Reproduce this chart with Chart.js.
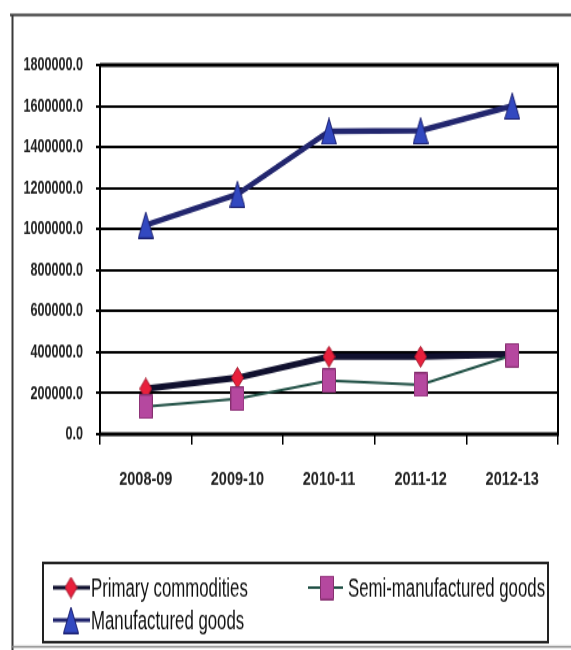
<!DOCTYPE html>
<html>
<head>
<meta charset="utf-8">
<script src="https://cdn.jsdelivr.net/npm/chart.js@4"></script>
<style>
  html, body { margin:0; padding:0; background:#fff; overflow:hidden; }
  #wrap { width:571px; height:650px; position:relative; }
  /* the source picture is a vertically stretched export, so draw at 500px and stretch */
  #c { transform:scaleY(1.3); transform-origin:0 0; }
</style>
</head>
<body>
<div id="wrap"><canvas id="c" width="571" height="500"></canvas></div>
<script>
/* =====  data  ===== */
const categories   = ['2008-09', '2009-10', '2010-11', '2011-12', '2012-13'];
const primary      = [222000, 275000, 378000, 378000, 388000];
const semiMfg      = [134000, 173000, 261000, 241000, 385000];
const manufactured = [1020000, 1170000, 1477000, 1480000, 1600000];
const yMax  = 1800000;
const yStep = 200000;

const SANS = '"Liberation Sans", Arial, sans-serif';
const NARROW_X = 0.84;      // horizontal squeeze that turns Arial into "Arial Narrow"

/* =====  marker images (tall, like the source)  ===== */
function marker(kind, w, h, fill, stroke) {
  const c = document.createElement('canvas');
  c.width = w; c.height = h;
  const g = c.getContext('2d');
  g.beginPath();
  if (kind === 'tri')      { g.moveTo(w/2, 0.5); g.lineTo(w-0.5, h-0.5); g.lineTo(0.5, h-0.5); }
  else if (kind === 'dia') { g.moveTo(w/2, 0.5); g.lineTo(w-0.5, h/2); g.lineTo(w/2, h-0.5); g.lineTo(0.5, h/2); }
  else                     { g.rect(0.5, 0.5, w-1, h-1); }
  g.closePath();
  g.fillStyle = fill; g.fill();
  g.lineWidth = 1; g.strokeStyle = stroke; g.stroke();
  return c;
}
const diaImg = marker('dia', 13, 17, '#e8203c', '#a0142a');
const sqImg  = marker('sq', 14, 19, '#b5489f', '#86306f');
const triImg = marker('tri', 16, 21, '#3248c0', '#1c2070');

/* =====  frame, plot border and hand-placed legend  ===== */
const legendItems = [
  { ds:0, x0:53,  x1:90,  mx:71,  tx:91,  y:452 },
  { ds:1, x0:308, x1:343, mx:327, tx:348, y:452 },
  { ds:2, x0:53,  x1:90,  mx:71,  tx:91,  y:477 }
];

const decor = {
  id: 'decor',
  afterLayout(chart) {
    // squeeze the y tick labels sideways (narrow font look)
    const s = chart.scales.y;
    if (s._squeezed) return;
    s._squeezed = true;
    const orig = s.drawLabels;
    s.drawLabels = function(area) {
      const ctx = this.ctx, px = this.right - 4 - 13;
      ctx.save();
      ctx.translate(px, 0); ctx.scale(NARROW_X, 1); ctx.translate(-px, 0);
      orig.call(this, area);
      ctx.restore();
    };
  },
  beforeDraw(chart) {
    const ctx = chart.ctx;
    ctx.save();
    ctx.fillStyle = '#fff';
    ctx.fillRect(0, 0, chart.width, chart.height);
    ctx.strokeStyle = '#3a3a3a'; ctx.lineWidth = 2;
    ctx.beginPath();
    ctx.moveTo(10, 11.5); ctx.lineTo(571, 11.5);
    ctx.moveTo(12.5, 11); ctx.lineTo(12.5, 500);
    ctx.stroke();
    ctx.strokeStyle = '#888'; ctx.lineWidth = 1.5;
    ctx.beginPath(); ctx.moveTo(12, 497.5); ctx.lineTo(571, 497.5); ctx.stroke();
    ctx.restore();
  },
  beforeDatasetsDraw(chart) {
    const {left, top, right, bottom} = chart.chartArea;
    const ctx = chart.ctx;
    ctx.save();
    ctx.strokeStyle = '#000';
    ctx.lineWidth = 3;
    ctx.beginPath(); ctx.moveTo(left, top); ctx.lineTo(right + 1, top); ctx.stroke();
    ctx.beginPath(); ctx.moveTo(left, bottom); ctx.lineTo(right + 1, bottom); ctx.stroke();
    ctx.lineWidth = 2;
    ctx.beginPath(); ctx.moveTo(right, top); ctx.lineTo(right, bottom); ctx.stroke();
    ctx.restore();
  },
  afterDraw(chart) {
    const ctx = chart.ctx;
    ctx.save();
    ctx.strokeStyle = '#222'; ctx.lineWidth = 2;
    ctx.strokeRect(43, 433, 505, 61);
    ctx.font = '20px ' + SANS;
    ctx.fillStyle = '#111';
    ctx.textBaseline = 'middle';
    legendItems.forEach(it => {
      const ds = chart.data.datasets[it.ds];
      ctx.strokeStyle = ds.borderColor;
      ctx.lineWidth = Math.min(ds.borderWidth, 3);
      ctx.beginPath(); ctx.moveTo(it.x0, it.y); ctx.lineTo(it.x1, it.y); ctx.stroke();
      const img = ds.pointStyle;
      ctx.drawImage(img, it.mx - img.width/2, it.y - img.height/2);
      ctx.save();
      ctx.translate(it.tx, it.y + 1); ctx.scale(NARROW_X, 1);
      ctx.fillText(ds.label, 0, 0);
      ctx.restore();
    });
    ctx.restore();
  }
};

/* =====  chart  ===== */
new Chart(document.getElementById('c'), {
  type: 'line',
  data: {
    labels: categories,
    datasets: [
      { label:'Primary commodities', data:primary, borderColor:'#10102e', borderWidth:5,
        pointStyle:diaImg, order:1 },
      { label:'Semi-manufactured goods', data:semiMfg, borderColor:'#1f4f44', borderWidth:2,
        pointStyle:sqImg, order:0 },
      { label:'Manufactured goods', data:manufactured, borderColor:'#22266e', borderWidth:4.5,
        pointStyle:triImg, order:2 }
    ]
  },
  options: {
    responsive:false,
    animation:false,
    events:[],
    devicePixelRatio:1,
    layout:{ padding:{ left:0, top:50, right:9, bottom:0 } },
    elements:{ line:{ tension:0 }, point:{ radius:8 } },
    plugins:{ legend:{ display:false }, tooltip:{ enabled:false } },
    scales:{
      x:{
        offset:true,
        afterFit(s){ s.height = 166; },
        grid:{ offset:true, drawOnChartArea:false, drawTicks:true, tickLength:8, color:'#000', lineWidth:1.5 },
        border:{ display:false },
        ticks:{ padding:18, color:'#222', font:{ family:SANS, size:14.5, weight:'bold' } }
      },
      y:{
        min:0, max:yMax,
        afterFit(s){ s.width = 100; },
        grid:{ color:'#000', lineWidth:2, tickLength:4 },
        border:{ display:true, color:'#000', width:2 },
        ticks:{ stepSize:yStep, padding:13, color:'#222',
          font:{ family:SANS, size:15, weight:'bold' },
          callback:v => v.toFixed(1) }
      }
    }
  },
  plugins:[decor]
});
</script>
</body>
</html>
